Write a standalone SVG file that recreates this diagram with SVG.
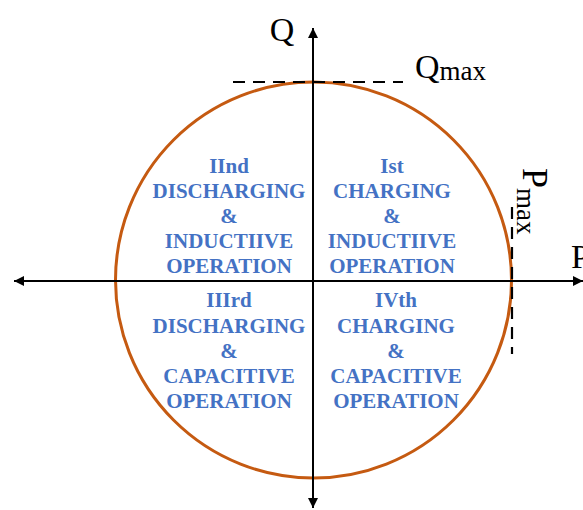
<svg xmlns="http://www.w3.org/2000/svg" width="583" height="510" viewBox="0 0 583 510">
<defs>
<style>
.axis{stroke:#000;stroke-width:2;fill:none}
.dash{stroke:#000;stroke-width:2.2;fill:none;stroke-dasharray:12 8}
.lbl,.lbl tspan{font-family:"Liberation Serif","Times New Roman",serif;fill:#000}
.q{font-family:"Liberation Serif","Times New Roman",serif;font-weight:bold;font-size:21px;fill:#4472C4;text-anchor:middle}
</style>
<marker id="ah" viewBox="0 0 10 10" refX="10" refY="5" markerWidth="10" markerHeight="10" markerUnits="userSpaceOnUse" orient="auto-start-reverse">
<path d="M0,0 L10,5 L0,10 Z" fill="#000"/>
</marker>
</defs>
<rect width="583" height="510" fill="#fff"/>
<g id="circle">
<circle cx="313.5" cy="280" r="198" fill="none" stroke="#C55A11" stroke-width="3"/>
</g>
<g id="connectors">
<line class="axis" x1="313" y1="28" x2="313" y2="508" marker-start="url(#ah)" marker-end="url(#ah)"/>
<line class="axis" x1="14" y1="281" x2="583" y2="281" marker-start="url(#ah)" marker-end="url(#ah)"/>
<line class="dash" x1="233" y1="82" x2="403" y2="82"/>
<line class="dash" x1="512" y1="207" x2="512" y2="354"/>
</g>
<g id="labels">
<text class="lbl" x="282" y="41" font-size="34" text-anchor="middle">Q</text>
<text class="lbl" x="415" y="78" font-size="34">Q<tspan font-family="Liberation Serif, serif" font-size="27" dy="2">max</tspan></text>
<text class="lbl" font-size="36" transform="translate(523,168) rotate(90)">P<tspan font-family="Liberation Serif, serif" font-size="27" dy="6">max</tspan></text>
<text class="lbl" x="571" y="268" font-size="34">P</text>
</g>
<g id="q2">
<text class="q" x="229" y="173">IInd</text>
<text class="q" x="229" y="198">DISCHARGING</text>
<text class="q" x="229" y="223">&amp;</text>
<text class="q" x="229" y="248">INDUCTIIVE</text>
<text class="q" x="229" y="273">OPERATION</text>
</g>
<g id="q1">
<text class="q" x="392" y="173">Ist</text>
<text class="q" x="392" y="198">CHARGING</text>
<text class="q" x="392" y="223">&amp;</text>
<text class="q" x="392" y="248">INDUCTIIVE</text>
<text class="q" x="392" y="273">OPERATION</text>
</g>
<g id="q3">
<text class="q" x="229" y="307">IIIrd</text>
<text class="q" x="229" y="333">DISCHARGING</text>
<text class="q" x="229" y="358">&amp;</text>
<text class="q" x="229" y="383">CAPACITIVE</text>
<text class="q" x="229" y="408">OPERATION</text>
</g>
<g id="q4">
<text class="q" x="396" y="307">IVth</text>
<text class="q" x="396" y="333">CHARGING</text>
<text class="q" x="396" y="358">&amp;</text>
<text class="q" x="396" y="383">CAPACITIVE</text>
<text class="q" x="396" y="408">OPERATION</text>
</g>
</svg>
